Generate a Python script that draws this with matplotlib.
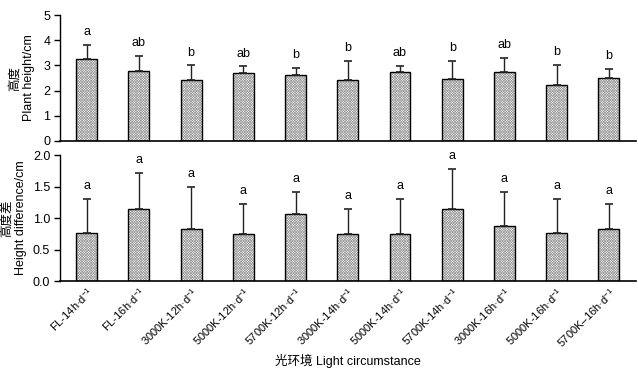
import matplotlib
matplotlib.use("Agg")
import matplotlib.pyplot as plt
import numpy as np

plt.rcParams['font.family'] = ['Liberation Sans', 'Noto Sans CJK SC', 'DejaVu Sans']
plt.rcParams['mathtext.fontset'] = 'custom'
plt.rcParams['mathtext.rm'] = 'Liberation Sans'
plt.rcParams['hatch.linewidth'] = 0.5

categories = ["FL-14h·d$^{-1}$", "FL-16h·d$^{-1}$", "3000K-12h·d$^{-1}$", "5000K-12h·d$^{-1}$",
              "5700K-12h·d$^{-1}$", "3000K-14h·d$^{-1}$", "5000K-14h·d$^{-1}$", "5700K-14h·d$^{-1}$",
              "3000K-16h·d$^{-1}$", "5000K-16h·d$^{-1}$", "5700K–16h·d$^{-1}$"]

height_mean = [3.24, 2.79, 2.41, 2.72, 2.61, 2.42, 2.74, 2.45, 2.74, 2.23, 2.49]
height_err = [0.57, 0.60, 0.59, 0.24, 0.30, 0.77, 0.25, 0.74, 0.57, 0.79, 0.38]
height_letters = ["a", "ab", "b", "ab", "b", "b", "ab", "b", "ab", "b", "b"]

diff_mean = [0.77, 1.15, 0.82, 0.74, 1.06, 0.75, 0.75, 1.14, 0.88, 0.77, 0.82]
diff_err = [0.53, 0.57, 0.68, 0.48, 0.36, 0.39, 0.55, 0.64, 0.54, 0.53, 0.40]
diff_letters = ["a"] * 11

fig = plt.figure(figsize=(6.38, 3.70), dpi=100)
ax1 = fig.add_axes([0.094, 0.619, 0.903, 0.340])
ax2 = fig.add_axes([0.094, 0.2405, 0.903, 0.3405])

x = np.arange(len(categories))

def draw(ax, mean, err, letters, ylim, yticks, fmt):
    # hatched fill in gray
    ax.bar(x, mean, width=0.4, facecolor='white', edgecolor='#9a9a9a', linewidth=0,
           hatch='x' * 13, zorder=2)
    # black outline
    ax.bar(x, mean, width=0.4, facecolor='none', edgecolor='black', linewidth=1.0, zorder=2.5)
    ax.errorbar(x, mean, yerr=[np.zeros(len(mean)), err], fmt='none', ecolor='#222222',
                elinewidth=1.0, capsize=3, capthick=1.2, zorder=3)
    for xi, m, e, l in zip(x, mean, err, letters):
        ax.annotate(l, (xi, m + e), xytext=(0, 5), textcoords='offset points',
                    ha='center', va='bottom', fontsize=9)
    ax.set_xlim(-0.51, 10.52)
    ax.set_ylim(*ylim)
    ax.set_yticks(yticks)
    ax.set_yticklabels([fmt.format(t) for t in yticks], fontsize=9)
    ax.spines['top'].set_visible(False)
    ax.spines['right'].set_visible(False)
    ax.spines['left'].set_linewidth(1.0)
    ax.spines['bottom'].set_linewidth(1.2)
    ax.tick_params(axis='y', direction='out', length=4, width=1.0, pad=3)
    ax.tick_params(axis='x', length=0)

draw(ax1, height_mean, height_err, height_letters, (0, 5), [0, 1, 2, 3, 4, 5], "{:.0f}")
draw(ax2, diff_mean, diff_err, diff_letters, (0, 2.0), [0.0, 0.5, 1.0, 1.5, 2.0], "{:.1f}")

ax1.set_xticks(x)
ax1.set_xticklabels([])
ax2.set_xticks(x)
ax2.set_xticklabels(categories, rotation=45, ha='right', rotation_mode='anchor', fontsize=8)
ax2.tick_params(axis='x', pad=3)

ax1.set_ylabel("高度\nPlant height/cm", fontsize=9, linespacing=1.25, labelpad=6)
ax2.set_ylabel("高度差\nHeight difference/cm", fontsize=9, linespacing=1.25, labelpad=4)
ax2.set_xlabel("光环境 Light circumstance", fontsize=9, labelpad=3)

fig.savefig("out.png", dpi=100)
